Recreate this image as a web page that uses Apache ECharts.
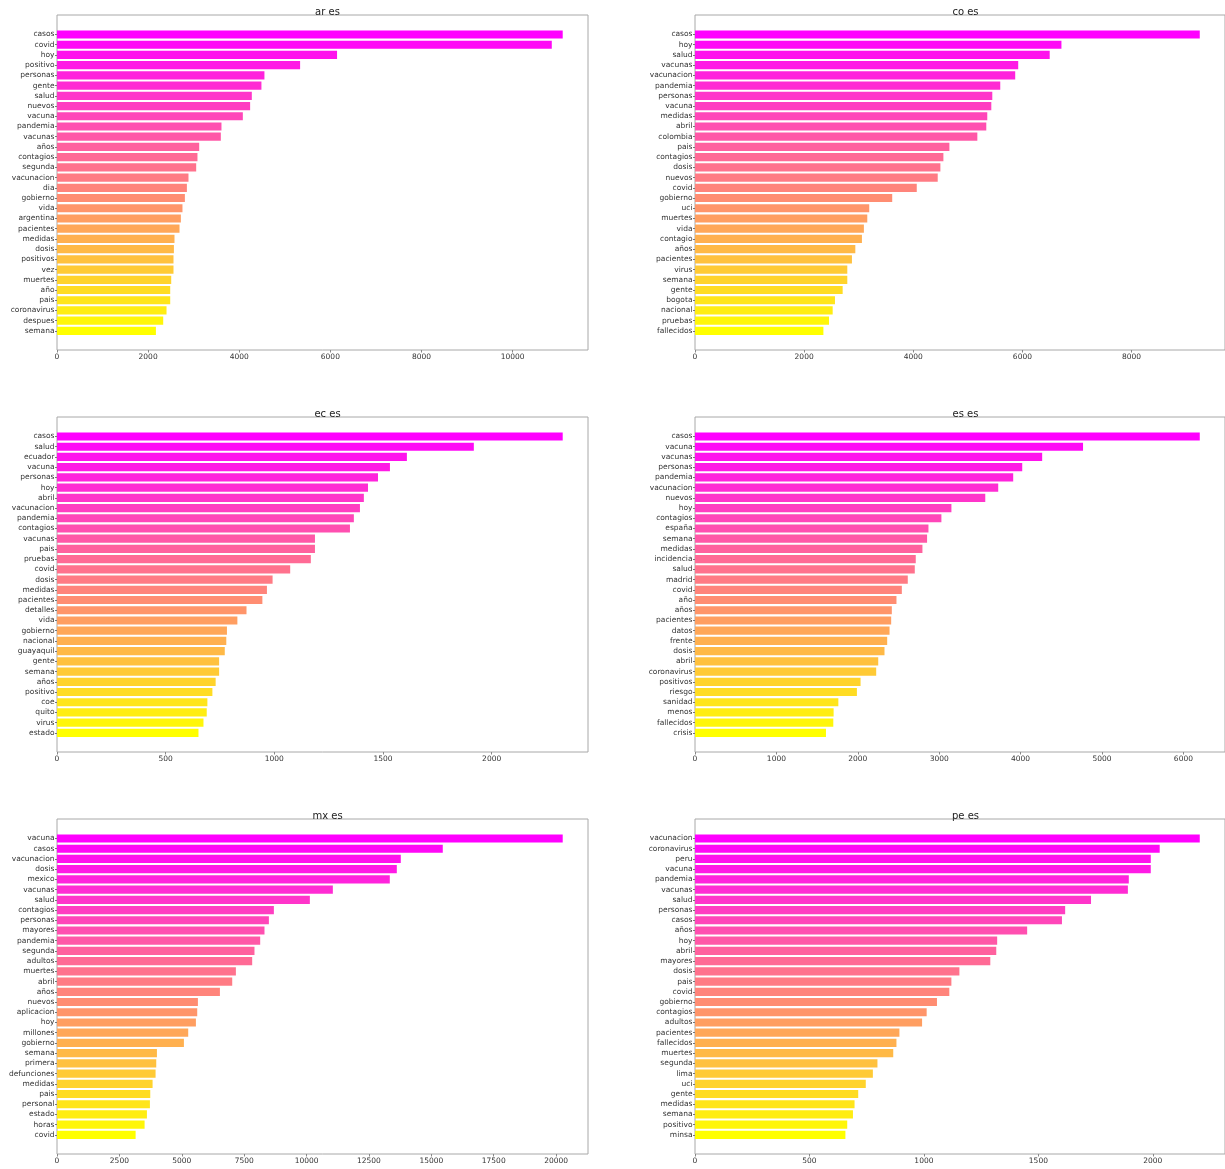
<!DOCTYPE html>
<html>
<head>
<meta charset="utf-8">
<script src="https://cdn.jsdelivr.net/npm/echarts@6/dist/echarts.min.js"></script>
<style>
html,body{margin:0;padding:0;background:#fff;}
#chart{width:1225px;height:1169px;}
</style>
</head>
<body>
<div id="chart"></div>
<script>
// ---- data ----
const panelTitles = ['ar es', 'co es', 'ec es', 'es es', 'mx es', 'pe es'];

const arLabels = ['casos','covid','hoy','positivo','personas','gente','salud','nuevos','vacuna','pandemia','vacunas','años','contagios','segunda','vacunacion','dia','gobierno','vida','argentina','pacientes','medidas','dosis','positivos','vez','muertes','año','pais','coronavirus','despues','semana'];
const arValues = [11100,10860,6147,5336,4553,4487,4276,4239,4079,3610,3596,3121,3083,3055,2886,2851,2807,2754,2719,2689,2579,2566,2557,2557,2507,2485,2485,2404,2331,2171];

const coLabels = ['casos','hoy','salud','vacunas','vacunacion','pandemia','personas','vacuna','medidas','abril','colombia','pais','contagios','dosis','nuevos','covid','gobierno','uci','muertes','vida','contagio','años','pacientes','virus','semana','gente','bogota','nacional','pruebas','fallecidos'];
const coValues = [9250,6715,6500,5923,5868,5594,5448,5430,5356,5338,5174,4662,4552,4497,4448,4064,3614,3193,3157,3095,3059,2938,2876,2791,2791,2706,2565,2523,2456,2353];

const ecLabels = ['casos','salud','ecuador','vacuna','personas','hoy','abril','vacunacion','pandemia','contagios','vacunas','pais','pruebas','covid','dosis','medidas','pacientes','detalles','vida','gobierno','nacional','guayaquil','gente','semana','años','positivo','coe','quito','virus','estado'];
const ecValues = [2327,1918,1610,1532,1477,1431,1412,1394,1366,1348,1187,1187,1168,1073,992,966,945,872,830,782,779,772,746,746,730,715,692,689,674,651];

const esLabels = ['casos','vacuna','vacunas','personas','pandemia','vacunacion','nuevos','hoy','contagios','españa','semana','medidas','incidencia','salud','madrid','covid','año','años','pacientes','datos','frente','dosis','abril','coronavirus','positivos','riesgo','sanidad','menos','fallecidos','crisis'];
const esValues = [6201,4767,4265,4020,3909,3725,3566,3150,3027,2868,2851,2794,2712,2700,2614,2541,2475,2418,2410,2390,2361,2328,2251,2226,2034,1989,1761,1703,1699,1609];

const mxLabels = ['vacuna','casos','vacunacion','dosis','mexico','vacunas','salud','contagios','personas','mayores','pandemia','segunda','adultos','muertes','abril','años','nuevos','aplicacion','hoy','millones','gobierno','semana','primera','defunciones','medidas','pais','personal','estado','horas','covid'];
const mxValues = [20264,15458,13776,13616,13335,11053,10132,8690,8490,8314,8142,7913,7821,7168,7021,6528,5646,5619,5566,5258,5085,4004,3977,3950,3830,3737,3723,3603,3510,3150];

const peLabels = ['vacunacion','coronavirus','peru','vacuna','pandemia','vacunas','salud','personas','casos','años','hoy','abril','mayores','dosis','pais','covid','gobierno','contagios','adultos','pacientes','fallecidos','muertes','segunda','lima','uci','gente','medidas','semana','positivo','minsa'];
const peValues = [2205,2030,1991,1991,1895,1891,1730,1617,1603,1451,1320,1316,1290,1155,1120,1111,1057,1012,992,893,880,866,797,777,746,713,697,690,665,657];

const tickIntervals = [2000, 2000, 500, 1000, 2500, 500];

const panels = [
  [arLabels, arValues], [coLabels, coValues], [ecLabels, ecValues],
  [esLabels, esValues], [mxLabels, mxValues], [peLabels, peValues]
];

// ---- layout ----
const colLeft = [57, 695];
const rowTop = [15, 417, 819];
const axW = 531, axH = 335;
const band = 10.22;
const padY = 14.4;

function springColor(i, n) {
  const t = i / (n - 1);
  return 'rgb(255,' + Math.round(255 * t) + ',' + Math.round(255 * (1 - t)) + ')';
}

const FONT = 'DejaVu Sans';
const grid = [], xAxis = [], yAxis = [], series = [], title = [];

panels.forEach(function (p, k) {
  const labels = p[0], values = p[1];
  const col = k % 2, row = Math.floor(k / 2);
  const left = colLeft[col], top = rowTop[row];
  const vmax = Math.max.apply(null, values) * 1.05;

  // frame grid
  const gF = grid.length;
  grid.push({left: left, top: top, width: axW, height: axH, show: true,
    borderColor: '#a8a8a8', borderWidth: 1, backgroundColor: 'transparent', containLabel: false});
  xAxis.push({type: 'value', gridIndex: gF, min: 0, max: vmax, interval: tickIntervals[k],
    axisLine: {show: false}, splitLine: {show: false},
    axisTick: {show: true, length: 2.5, lineStyle: {color: '#888'}},
    axisLabel: {show: true, showMaxLabel: false, fontSize: 7.5, fontFamily: FONT, color: '#333', margin: 3,
      formatter: function (v) { return String(v); }}});
  yAxis.push({type: 'value', gridIndex: gF, min: 0, max: 1, show: false});

  // bar grid
  const gB = grid.length;
  grid.push({left: left, top: top + padY, width: axW, height: band * labels.length, containLabel: false});
  xAxis.push({type: 'value', gridIndex: gB, min: 0, max: vmax, show: false});
  yAxis.push({type: 'category', gridIndex: gB, inverse: true, data: labels,
    axisLine: {show: false},
    axisTick: {show: true, alignWithLabel: true, length: 2, lineStyle: {color: '#777'}},
    axisLabel: {fontSize: 7.5, fontFamily: FONT, color: '#333', margin: 2.5, interval: 0},
    splitLine: {show: false}});
  series.push({type: 'bar', xAxisIndex: xAxis.length - 1, yAxisIndex: yAxis.length - 1,
    barCategoryGap: '20%', silent: true,
    data: values.map(function (v, i) {
      return {value: v, itemStyle: {color: springColor(i, values.length)}};
    })});

  title.push({text: panelTitles[k], left: left + axW / 2, top: top - 13, textAlign: 'center',
    textStyle: {fontSize: 10, fontWeight: 'normal', fontFamily: FONT, color: '#222'}});
});

const chart = echarts.init(document.getElementById('chart'), null, {renderer: 'canvas'});
chart.setOption({
  animation: false,
  backgroundColor: '#ffffff',
  title: title,
  grid: grid,
  xAxis: xAxis,
  yAxis: yAxis,
  series: series
});
</script>
</body>
</html>
